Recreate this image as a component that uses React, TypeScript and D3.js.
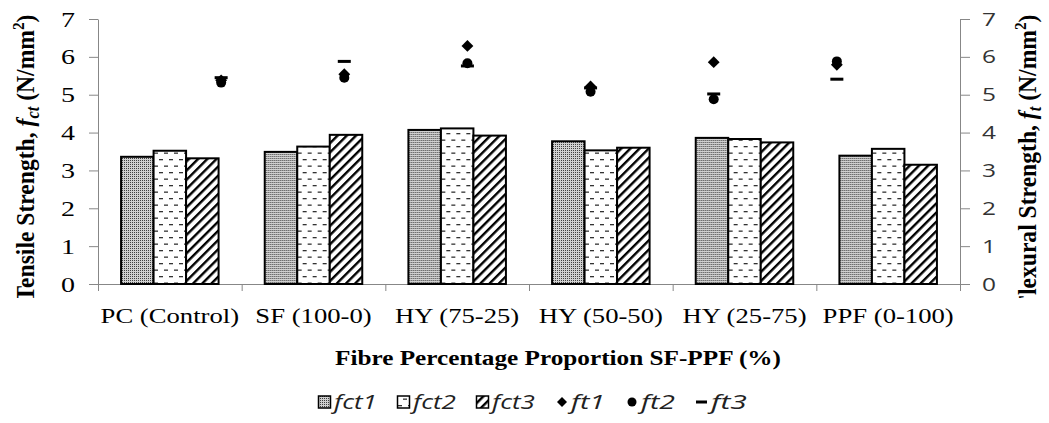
import { useRef, useEffect } from "react";
import * as d3 from "d3";

const categories = [
  "PC (Control)",
  "SF (100-0)",
  "HY (75-25)",
  "HY (50-50)",
  "HY (25-75)",
  "PPF (0-100)",
];

// tensile strength (bars, left axis)
const fct1 = [3.36, 3.49, 4.07, 3.77, 3.86, 3.39];
const fct2 = [3.52, 3.63, 4.11, 3.53, 3.83, 3.57];
const fct3 = [3.32, 3.94, 3.92, 3.6, 3.74, 3.15];

// flexural strength (markers, right axis)
const ft1 = [5.38, 5.54, 6.29, 5.22, 5.86, 5.79];
const ft2 = [5.32, 5.45, 5.83, 5.08, 4.88, 5.88];
const ft3 = [5.45, 5.88, 5.76, 5.18, 5.02, 5.41];

const yTicks = [0, 1, 2, 3, 4, 5, 6, 7];

const barKeys = ["fct1", "fct2", "fct3"];
const barValues: Record<string, number[]> = { fct1, fct2, fct3 };

const width = 1049;
const height = 423;
const plot = { left: 98, right: 960, top: 19, bottom: 284 };

const serif = "Liberation Serif, Times New Roman, serif";
const sans = "Open Sans, Liberation Sans, sans-serif";
const axisGray = "#878787";

export default function App() {
  const ref = useRef<SVGSVGElement | null>(null);

  useEffect(() => {
    const svg = d3.select(ref.current);
    svg.selectAll("*").remove();

    // fill patterns
    const defs = svg.append("defs");
    const p1 = defs
      .append("pattern")
      .attr("id", "pat-fct1")
      .attr("patternUnits", "userSpaceOnUse")
      .attr("width", 2)
      .attr("height", 2);
    p1.append("rect").attr("width", 2).attr("height", 2).attr("fill", "#d0d0d0");
    p1.append("rect").attr("width", 1).attr("height", 1).attr("fill", "#404040");

    const p2 = defs
      .append("pattern")
      .attr("id", "pat-fct2")
      .attr("patternUnits", "userSpaceOnUse")
      .attr("width", 10)
      .attr("height", 13);
    p2.append("rect").attr("width", 10).attr("height", 13).attr("fill", "#fff");
    p2.append("rect").attr("x", 1).attr("y", 3).attr("width", 4).attr("height", 1.3).attr("fill", "#333");
    p2.append("rect").attr("x", 6).attr("y", 9.5).attr("width", 4).attr("height", 1.3).attr("fill", "#333");

    const p3 = defs
      .append("pattern")
      .attr("id", "pat-fct3")
      .attr("patternUnits", "userSpaceOnUse")
      .attr("width", 6.5)
      .attr("height", 6.5)
      .attr("patternTransform", "rotate(45)");
    p3.append("rect").attr("width", 6.5).attr("height", 6.5).attr("fill", "#fff");
    p3.append("rect").attr("width", 2.4).attr("height", 6.5).attr("fill", "#000");

    defs
      .append("clipPath")
      .attr("id", "title-clip")
      .append("rect")
      .attr("width", width)
      .attr("height", 298);

    const fill = (k: string) => `url(#pat-${k})`;

    const x = d3.scaleBand().domain(categories).range([plot.left, plot.right]);
    const xInner = d3
      .scaleBand()
      .domain(barKeys)
      .range([0, x.bandwidth()])
      .paddingOuter(0.71);
    // markers sit on the tick marks of a 7-slot secondary axis
    const xMarker = d3
      .scaleLinear()
      .domain([0, categories.length + 1])
      .range([plot.left, plot.right]);
    const xTicks = d3
      .scaleLinear()
      .domain([0, categories.length])
      .range([plot.left, plot.right]);
    const y = d3.scaleLinear().domain([0, 7]).range([plot.bottom, plot.top]);

    // axes
    const gLeft = svg
      .append("g")
      .attr("transform", `translate(${plot.left},0)`)
      .call(
        d3
          .axisLeft(y)
          .tickValues(yTicks)
          .tickFormat(d3.format("d"))
          .tickSize(9)
          .tickSizeOuter(0)
          .tickPadding(14)
      );
    gLeft
      .selectAll("text")
      .attr("font-family", serif)
      .attr("font-size", 22)
      .attr("fill", "#000")
      .attr("textLength", 14)
      .attr("lengthAdjust", "spacingAndGlyphs");

    const gRight = svg
      .append("g")
      .attr("transform", `translate(${plot.right},0)`)
      .call(
        d3
          .axisRight(y)
          .tickValues(yTicks)
          .tickFormat(d3.format("d"))
          .tickSize(10)
          .tickSizeOuter(0)
          .tickPadding(12)
      );
    gRight
      .selectAll("text")
      .attr("font-family", sans)
      .attr("font-size", 19)
      .attr("fill", "#333")
      .attr("textLength", 14)
      .attr("lengthAdjust", "spacingAndGlyphs");

    const gBottom = svg
      .append("g")
      .attr("transform", `translate(0,${plot.bottom})`)
      .call(
        d3
          .axisBottom(xTicks)
          .tickValues(d3.range(categories.length + 1))
          .tickFormat(() => "")
          .tickSize(7)
          .tickSizeOuter(0)
      );

    [gLeft, gRight, gBottom].forEach((g) => {
      g.select(".domain").attr("stroke", axisGray);
      g.selectAll(".tick line").attr("stroke", axisGray);
    });

    // category labels
    svg
      .append("g")
      .selectAll("text")
      .data(categories)
      .join("text")
      .attr("transform", (d) => `translate(${x(d)! + x.bandwidth() / 2},323) scale(1.27,1)`)
      .attr("text-anchor", "middle")
      .attr("font-family", serif)
      .attr("font-size", 21)
      .attr("fill", "#000")
      .text((d) => d);

    // bars
    svg
      .append("g")
      .selectAll("g")
      .data(categories)
      .join("g")
      .attr("transform", (d) => `translate(${x(d)},0)`)
      .selectAll("rect")
      .data((_, i) => barKeys.map((k) => ({ key: k, value: barValues[k][i] })))
      .join("rect")
      .attr("x", (d) => xInner(d.key)!)
      .attr("width", xInner.bandwidth())
      .attr("y", (d) => y(d.value))
      .attr("height", (d) => y(0) - y(d.value))
      .attr("fill", (d) => fill(d.key))
      .attr("stroke", "#000")
      .attr("stroke-width", 2);

    // flexural markers
    const diamond = d3.symbol().type(d3.symbolSquare).size(70)();
    const gm = svg.append("g");
    gm.selectAll("path")
      .data(ft1)
      .join("path")
      .attr("d", diamond)
      .attr("transform", (d, i) => `translate(${xMarker(i + 1)},${y(d)}) rotate(45)`)
      .attr("fill", "#000");
    gm.selectAll("circle")
      .data(ft2)
      .join("circle")
      .attr("cx", (_, i) => xMarker(i + 1))
      .attr("cy", (d) => y(d))
      .attr("r", 5)
      .attr("fill", "#000");
    gm.selectAll("rect")
      .data(ft3)
      .join("rect")
      .attr("x", (_, i) => xMarker(i + 1) - 6.5)
      .attr("y", (d) => y(d) - 1.5)
      .attr("width", 13)
      .attr("height", 3)
      .attr("fill", "#000");

    // axis titles
    const leftTitle = svg
      .append("g")
      .attr("clip-path", "url(#title-clip)")
      .append("text")
      .attr("transform", "translate(34,158) scale(1.3,1) rotate(-90)")
      .attr("text-anchor", "middle")
      .attr("font-family", serif)
      .attr("font-weight", "bold")
      .attr("font-size", 20)
      .attr("textLength", 287)
      .attr("lengthAdjust", "spacingAndGlyphs");
    leftTitle.append("tspan").text("Tensile Strength, ");
    leftTitle.append("tspan").attr("font-style", "italic").text("f");
    leftTitle.append("tspan").attr("font-style", "italic").attr("font-size", 14).attr("dy", 4).text("ct");
    leftTitle.append("tspan").attr("dy", -4).text(" (N/mm");
    leftTitle.append("tspan").attr("font-size", 13).attr("dy", -8).text("2");
    leftTitle.append("tspan").attr("dy", 8).text(")");

    const rightTitle = svg
      .append("g")
      .attr("clip-path", "url(#title-clip)")
      .append("text")
      .attr("transform", "translate(1036,162) scale(1.3,1) rotate(-90)")
      .attr("text-anchor", "middle")
      .attr("font-family", serif)
      .attr("font-weight", "bold")
      .attr("font-size", 20)
      .attr("textLength", 295)
      .attr("lengthAdjust", "spacingAndGlyphs");
    rightTitle.append("tspan").text("Flexural Strength, ");
    rightTitle.append("tspan").attr("font-style", "italic").text("f");
    rightTitle.append("tspan").attr("font-style", "italic").attr("font-size", 14).attr("dy", 4).text("t");
    rightTitle.append("tspan").attr("dy", -4).text("  (N/mm");
    rightTitle.append("tspan").attr("font-size", 13).attr("dy", -8).text("2");
    rightTitle.append("tspan").attr("dy", 8).text(")");

    svg
      .append("text")
      .attr("x", 558)
      .attr("y", 365)
      .attr("text-anchor", "middle")
      .attr("font-family", serif)
      .attr("font-weight", "bold")
      .attr("font-size", 21.5)
      .attr("textLength", 446)
      .attr("lengthAdjust", "spacingAndGlyphs")
      .text("Fibre Percentage Proportion SF-PPF (%)");

    // legend
    const legendItems = [
      { key: "fct1", kind: "bar", w: 43 },
      { key: "fct2", kind: "bar", w: 43 },
      { key: "fct3", kind: "bar", w: 43 },
      { key: "ft1", kind: "diamond", w: 34 },
      { key: "ft2", kind: "circle", w: 34 },
      { key: "ft3", kind: "dash", w: 36 },
    ];
    const legendY = 402;
    let lx = 318;
    const gl = svg.append("g");
    legendItems.forEach((it) => {
      const g = gl.append("g").attr("transform", `translate(${lx},${legendY})`);
      if (it.kind === "bar") {
        g.append("rect")
          .attr("x", 0.5)
          .attr("y", -6)
          .attr("width", 12)
          .attr("height", 12)
          .attr("fill", fill(it.key))
          .attr("stroke", "#000")
          .attr("stroke-width", 1.5);
      } else if (it.kind === "diamond") {
        g.append("path")
          .attr("d", d3.symbol().type(d3.symbolSquare).size(50)())
          .attr("transform", "translate(7,0) rotate(45)")
          .attr("fill", "#000");
      } else if (it.kind === "circle") {
        g.append("circle").attr("cx", 7).attr("r", 4.5).attr("fill", "#000");
      } else {
        g.append("rect").attr("x", 1).attr("y", -1.5).attr("width", 11).attr("height", 3).attr("fill", "#000");
      }
      g.append("text")
        .attr("x", 16)
        .attr("y", 6.5)
        .attr("font-family", sans)
        .attr("font-style", "italic")
        .attr("font-size", 20)
        .attr("fill", "#222")
        .attr("textLength", it.w)
        .attr("lengthAdjust", "spacingAndGlyphs")
        .text(it.key);
      lx += 16 + it.w + 20;
    });
  }, []);

  return (
    <svg
      ref={ref}
      width={width}
      height={height}
      style={{ position: "absolute", left: 0, top: 0, background: "#fff" }}
    />
  );
}
